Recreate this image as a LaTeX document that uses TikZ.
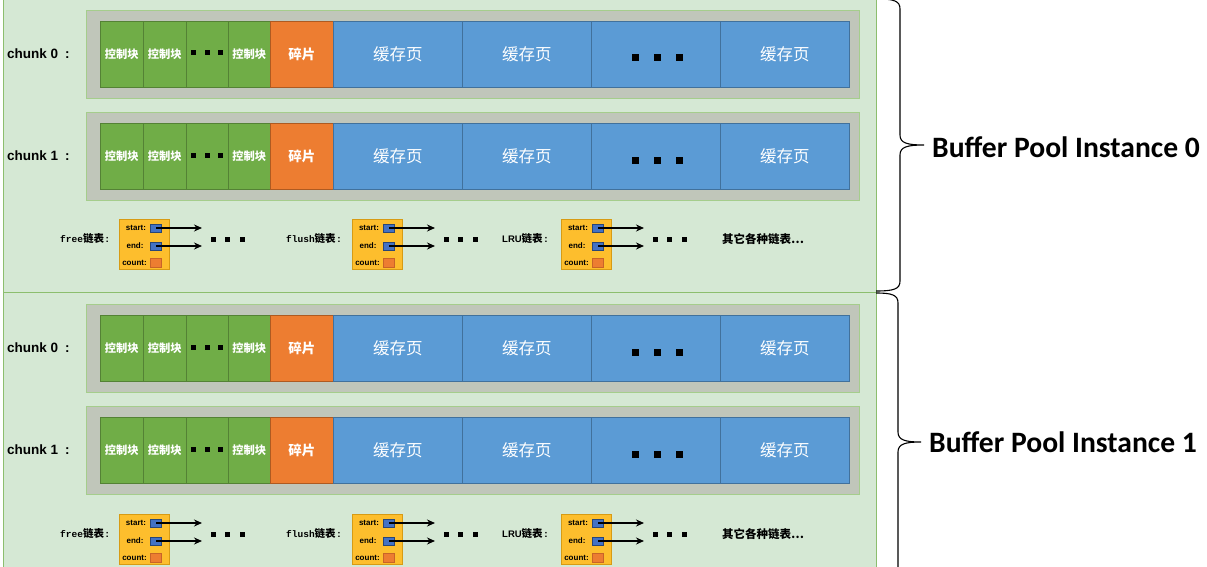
\documentclass[tikz,border=0pt]{standalone}
\usepackage{fontspec}
\setmainfont{Liberation Sans}
\newfontfamily\cjk{Noto Sans CJK SC}
\newfontfamily\bigfont{Carlito}
\newfontfamily\mymono{Liberation Mono}
\usetikzlibrary{arrows.meta}
\definecolor{panelfill}{RGB}{213,232,212}
\definecolor{paneldraw}{RGB}{140,190,110}
\definecolor{framefill}{RGB}{192,198,186}
\definecolor{framedraw}{RGB}{165,205,140}
\definecolor{ctlgreen}{RGB}{112,173,71}
\definecolor{ctlborder}{RGB}{84,130,53}
\definecolor{fragorange}{RGB}{237,125,49}
\definecolor{fragborder}{RGB}{174,90,33}
\definecolor{pageblue}{RGB}{91,155,213}
\definecolor{pageborder}{RGB}{65,113,156}
\definecolor{listfill}{RGB}{253,190,45}
\definecolor{listborder}{RGB}{215,155,20}
\definecolor{sqblue}{RGB}{68,114,196}
\definecolor{sqborder}{RGB}{40,70,120}
\definecolor{sqorange}{RGB}{237,125,49}
\definecolor{sqoborder}{RGB}{200,100,40}

\tikzset{
  panel/.style={fill=panelfill,draw=paneldraw,line width=1pt},
  chunkframe/.style={fill=framefill,draw=framedraw,line width=1pt,anchor=north west,inner sep=0pt,minimum width=773pt,minimum height=88pt},
  blk/.style={anchor=north west,inner sep=0pt,minimum height=66pt,line width=0.6pt},
  ctl/.style={blk,fill=ctlgreen,draw=ctlborder,text=white,font=\cjk\bfseries\fontsize{11.3}{11}\selectfont},
  frag/.style={blk,fill=fragorange,draw=fragborder,text=white,font=\cjk\bfseries\fontsize{13.5}{14}\selectfont},
  page/.style={blk,fill=pageblue,draw=pageborder,text=white,font=\cjk\fontsize{16.5}{17}\selectfont},
  sdot/.style={fill=black,inner sep=0pt,minimum size=5pt},
  bdot/.style={fill=black,inner sep=0pt,minimum size=7pt},
  chunklabel/.style={anchor=west,font=\bfseries\fontsize{13.5}{14}\selectfont},
  listbox/.style={anchor=north west,fill=listfill,draw=listborder,line width=0.8pt,inner sep=0pt,minimum width=50pt,minimum height=50pt},
  fieldlabel/.style={font=\bfseries\fontsize{8}{8}\selectfont,inner sep=0pt},
  ptrsq/.style={fill=sqblue,draw=sqborder,line width=0.6pt,inner sep=0pt,minimum width=11pt,minimum height=8pt},
  cntsq/.style={fill=sqorange,draw=sqoborder,line width=0.6pt,inner sep=0pt,minimum width=11pt,minimum height=9pt},
  ptrarrow/.style={line width=1.4pt,-{Stealth[length=8pt,width=7pt]}},
  listlabel/.style={anchor=west,inner sep=0pt},
  otherlabel/.style={listlabel,font=\cjk\bfseries\fontsize{11.5}{11}\selectfont},
  bracepath/.style={line width=1.1pt,black},
  biglabel/.style={anchor=west,font=\bigfont\bfseries\fontsize{29.6}{30}\selectfont,inner sep=0pt}
}

% #1 prefix, #2 inner top y, #3 label
\newcommand\chunkrow[3]{%
  \node[chunkframe] (#1f) at (86,#2-11) {};
  \node[chunklabel,inner sep=0pt] (#1l) at (7,#2+33) {#3};
  \node[ctl,minimum width=43pt] (#1a) at (100,#2) {控制块};
  \node[ctl,minimum width=43pt] (#1b) at (143,#2) {控制块};
  \node[ctl,minimum width=42pt] (#1c) at (186,#2) {};
  \node[ctl,minimum width=42pt] (#1d) at (228,#2) {控制块};
  \node[frag,minimum width=63pt] (#1e) at (270,#2) {碎片};
  \node[page,minimum width=129pt] (#1p1) at (333,#2) {缓存页};
  \node[page,minimum width=129pt] (#1p2) at (462,#2) {缓存页};
  \node[page,minimum width=129pt] (#1p3) at (591,#2) {};
  \node[page,minimum width=129pt] (#1p4) at (720,#2) {缓存页};
  \node[sdot] (#1cd1) at (193.5,#2+32) {};
  \node[sdot] (#1cd2) at (207,#2+32) {};
  \node[sdot] (#1cd3) at (220.5,#2+32) {};
  \node[bdot] (#1pd1) at (635,#2+37) {};
  \node[bdot] (#1pd2) at (657,#2+37) {};
  \node[bdot] (#1pd3) at (679,#2+37) {};
}

% #1 prefix, #2 box top y, #3 label x, #4 box x, #5 label
\newcommand\listrow[5]{%
  \node[listlabel] (#1lab) at (#3,#2+20) {#5};
  \node[listbox] (#1box) at (#4,#2) {};
  \node[fieldlabel] (#1ts) at (#4+17,#2+9) {start:};
  \node[fieldlabel] (#1te) at (#4+16,#2+26.5) {end:};
  \node[fieldlabel] (#1tc) at (#4+15.5,#2+43.5) {count:};
  \node[ptrsq] (#1ss) at (#4+37,#2+9) {};
  \node[ptrsq] (#1se) at (#4+37,#2+27) {};
  \node[cntsq] (#1sc) at (#4+37,#2+43.5) {};
  \coordinate (#1es) at (#4+83,#2+9);
  \coordinate (#1ee) at (#4+83,#2+27);
  \draw[ptrarrow] (#1ss.center) -- (#1es);
  \draw[ptrarrow] (#1se.center) -- (#1ee);
  \node[sdot] (#1d1) at (#4+94,#2+20) {};
  \node[sdot] (#1d2) at (#4+108.5,#2+20) {};
  \node[sdot] (#1d3) at (#4+123,#2+20) {};
}

\newcommand\freelab{{\mymono\bfseries\fontsize{9.5}{10}\selectfont free}{\cjk\bfseries\fontsize{10.5}{11}\selectfont 链表}\,{\bfseries\fontsize{10}{10}\selectfont :}}
\newcommand\flushlab{{\mymono\bfseries\fontsize{9.5}{10}\selectfont flush}{\cjk\bfseries\fontsize{10.5}{11}\selectfont 链表}\,{\bfseries\fontsize{10}{10}\selectfont :}}
\newcommand\lrulab{{\bfseries\fontsize{9.5}{10}\selectfont LRU}{\cjk\bfseries\fontsize{10.5}{11}\selectfont 链表}\,{\bfseries\fontsize{10}{10}\selectfont :}}

\begin{document}
\begin{tikzpicture}[x=1pt,y=-1pt]
\useasboundingbox (0,0) rectangle (1207,567);
\clip (0,0) rectangle (1207,567);
\fill[white] (0,0) rectangle (1207,567);

% panels
\draw[panel] (3,-5) rectangle (876,292);
\draw[panel] (3,292) rectangle (876,610);

% instance 0
\chunkrow{a0}{21}{chunk 0\hspace{7pt}:}
\chunkrow{a1}{123}{chunk 1\hspace{7pt}:}
\listrow{a0f}{219}{60}{119}{\freelab}
\listrow{a0u}{219}{286}{352}{\flushlab}
\listrow{a0l}{219}{502}{561}{\lrulab}
\node[otherlabel] (a0o) at (722,239) {其它各种链表…};

% instance 1
\chunkrow{b0}{315}{chunk 0\hspace{7pt}:}
\chunkrow{b1}{417}{chunk 1\hspace{7pt}:}
\listrow{b0f}{514}{60}{119}{\freelab}
\listrow{b0u}{514}{286}{352}{\flushlab}
\listrow{b0l}{514}{502}{561}{\lrulab}
\node[otherlabel] (b0o) at (722,534) {其它各种链表…};

% braces
\draw[bracepath] (878,-1) .. controls (894,-1) and (900,1) .. (900,9)
  -- (900,135) .. controls (900,143) and (907,145) .. (924,145)
  .. controls (907,145) and (900,147) .. (900,155)
  -- (900,281) .. controls (900,289) and (894,291) .. (876,291);
\draw[bracepath] (876,293) .. controls (892,293) and (898,295) .. (898,303)
  -- (898,432) .. controls (898,440) and (905,442) .. (921,442)
  .. controls (905,442) and (898,444) .. (898,452)
  -- (898,600);

\node[biglabel] (t0) at (932,147) {Buffer Pool Instance 0};
\node[biglabel] (t1) at (929,442) {Buffer Pool Instance 1};
\end{tikzpicture}
\end{document}
